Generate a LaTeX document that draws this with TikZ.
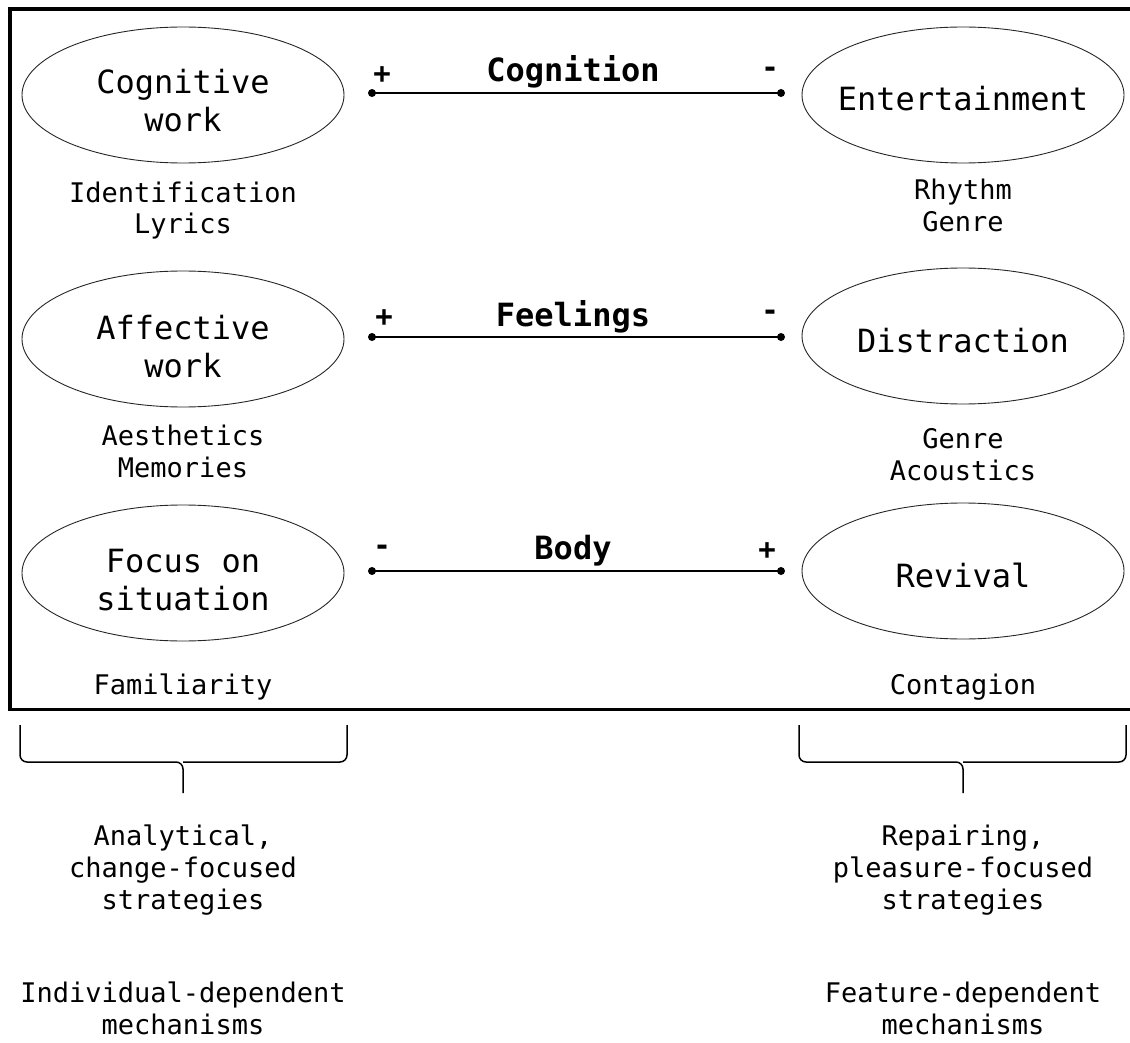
\documentclass[tikz,border=0pt]{standalone}
\usepackage{fontspec}
\setmonofont{DejaVu Sans Mono}
\usetikzlibrary{shapes.geometric}
\begin{document}
\begin{tikzpicture}[x=1pt,y=-1pt,
  ell/.style={ellipse, draw=black!85, line width=0.9pt, minimum width=322pt, minimum height=136pt, inner sep=0pt},
  etext/.style={font=\ttfamily\fontsize{32}{38}\selectfont, align=center, inner sep=0pt, anchor=base},
  subtext/.style={font=\ttfamily\fontsize{27}{32}\selectfont, align=center, inner sep=0pt, anchor=base},
  dimlabel/.style={font=\ttfamily\bfseries\fontsize{32}{36}\selectfont, inner sep=0pt, anchor=base},
  sign/.style={font=\ttfamily\bfseries\fontsize{29}{32}\selectfont, inner sep=0pt},
  dotnode/.style={circle, fill=black, inner sep=0pt, minimum size=8pt},
  axisline/.style={line width=2.5pt},
  frameline/.style={line width=3.5pt},
  bracket/.style={line width=1.5pt, rounded corners=7pt}]
\useasboundingbox (0,0) rectangle (1130,1043);
% frame
\draw[frameline] (1130,9) -- (10,9) -- (10,709.5) -- (1130,709.5);
% ellipses
\node[ell] (cw) at (183,95) {};
\node[ell] (ent) at (963,95) {};
\node[ell] (aw) at (183,339) {};
\node[ell] (dis) at (963,336) {};
\node[ell] (fos) at (183,573) {};
\node[ell] (rev) at (963,571) {};
\node[etext] (cwt) at (183,132) {Cognitive\\work};
\node[etext] (entt) at (963,111) {Entertainment};
\node[etext] (awt) at (183,377) {Affective\\work};
\node[etext] (dist) at (963,352) {Distraction};
\node[etext] (fost) at (183,610) {Focus on\\situation};
\node[etext] (revt) at (963,587) {Revival};
% sub texts
\node[subtext] (s1) at (183,234) {Identification\\Lyrics};
\node[subtext] (s2) at (963,232) {Rhythm\\Genre};
\node[subtext] (s3) at (183,477) {Aesthetics\\Memories};
\node[subtext] (s4) at (963,480) {Genre\\Acoustics};
\node[subtext] (s5) at (183,694) {Familiarity};
\node[subtext] (s6) at (963,694) {Contagion};
% axes
\node[dotnode] (a1l) at (372,93) {};
\node[dotnode] (a1r) at (781,93) {};
\node[dotnode] (a2l) at (372,337) {};
\node[dotnode] (a2r) at (781,337) {};
\node[dotnode] (a3l) at (372,571) {};
\node[dotnode] (a3r) at (781,571) {};
\draw[axisline] (a1l.center) -- (a1r.center);
\draw[axisline] (a2l.center) -- (a2r.center);
\draw[axisline] (a3l.center) -- (a3r.center);
\node[dimlabel] (d1) at (573,82) {Cognition};
\node[dimlabel] (d2) at (573,326) {Feelings};
\node[dimlabel] (d3) at (573,559) {Body};
\node[sign] (p1l) at (382,75) {+};
\node[sign] (p1r) at (770,72) {-};
\node[sign] (p2l) at (384,318) {+};
\node[sign] (p2r) at (770,315) {-};
\node[sign] (p3l) at (382,550) {-};
\node[sign] (p3r) at (767,551) {+};
% braces
\draw[bracket] (20,725) -- (20,762) -- (183,762) -- (183,793);
\draw[bracket] (347,725) -- (347,762) -- (183,762);
\draw[bracket] (799,725) -- (799,762) -- (963,762) -- (963,793);
\draw[bracket] (1126,725) -- (1126,762) -- (963,762);
% bottom texts
\node[subtext] (b1) at (183,909) {Analytical,\\change-focused\\strategies};
\node[subtext] (b2) at (963,909) {Repairing,\\pleasure-focused\\strategies};
\node[subtext] (b3) at (183,1034) {Individual-dependent\\mechanisms};
\node[subtext] (b4) at (963,1034) {Feature-dependent\\mechanisms};
\end{tikzpicture}
\end{document}
